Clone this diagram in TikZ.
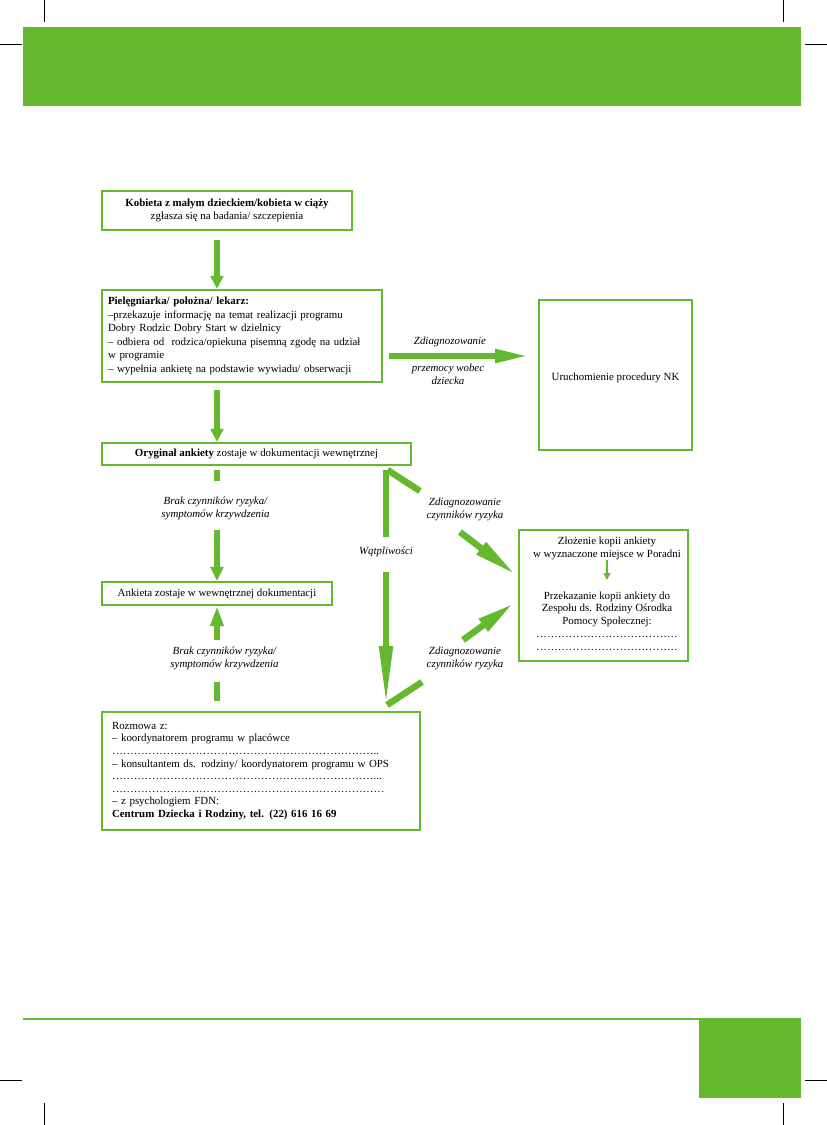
\documentclass[tikz,border=0pt]{standalone}
\usepackage{fontspec}
\setmainfont{Liberation Serif}
\usetikzlibrary{arrows.meta}
\definecolor{gr}{RGB}{101,185,46}
\newcommand\myfs{\fontsize{10.9pt}{12.8pt}\selectfont}
\newcommand\myell[1]{\foreach \k in {1,...,#1}{…}}
\begin{document}
\begin{tikzpicture}[x=1pt,y=-1pt,
  box/.style={draw=gr, line width=2.2pt, inner sep=0pt, font=\myfs},
  txt/.style={inner sep=0pt, font=\myfs, align=center},
  lab/.style={inner sep=0pt, font=\myfs\itshape, align=center},
  big/.style={draw=gr, line width=6.5pt},
  hd/.style={-{Triangle[length=#1,width=12.5pt]}},
  crop/.style={draw=black, line width=0.8pt}]
\useasboundingbox (0,0) rectangle (827,1125);
% crop marks
\draw[crop] (44,0) -- (44,22);
\draw[crop] (783,0) -- (783,22);
\draw[crop] (0,44) -- (22,44);
\draw[crop] (805,44) -- (827,44);
\draw[crop] (44,1103) -- (44,1125);
\draw[crop] (783,1103) -- (783,1125);
\draw[crop] (0,1080) -- (22,1080);
\draw[crop] (805,1080) -- (827,1080);
% header / footer
\fill[gr] (23,27) rectangle (801,106);
\draw[gr, line width=1.3pt] (23,1019) -- (700,1019);
\fill[gr] (699,1018.4) rectangle (801,1098);
% boxes
\node[box, minimum width=250pt, minimum height=39pt, align=center,
  font=\fontsize{10.9pt}{12.3pt}\selectfont] (b1) at (227,210.5)
  {\textbf{Kobieta z małym dzieckiem/kobieta w ciąży}\\zgłasza się na badania/ szczepienia};
\node[box, minimum width=280pt, minimum height=92pt, text width=268pt, align=left,
  font=\fontsize{10.9pt}{13.5pt}\selectfont] (b2) at (242,336)
  {\textbf{Pielęgniarka/ położna/ lekarz:}\\
   –przekazuje informację na temat realizacji programu\\
   Dobry Rodzic Dobry Start w dzielnicy\\
   – odbiera od\ \ rodzica/opiekuna pisemną zgodę na udział\\
   w programie\\
   – wypełnia ankietę na podstawie wywiadu/ obserwacji};
\node[box, minimum width=153pt, minimum height=150pt] (nk) at (615.5,375) {};
\node[txt] (nkt) at (615.5,378) {Uruchomienie procedury NK};
\node[box, minimum width=309pt, minimum height=22pt] (b3) at (256.5,454)
  {\textbf{Oryginał ankiety} zostaje w dokumentacji wewnętrznej};
\node[box, minimum width=230pt, minimum height=23pt] (b4) at (217,593.5)
  {Ankieta zostaje w wewnętrznej dokumentacji};
\node[box, minimum width=169pt, minimum height=131pt] (rb) at (603.5,595.5) {};
\node[txt, font=\fontsize{10.9pt}{12.6pt}\selectfont] (rt1) at (607,548.5)
  {Złożenie kopii ankiety\\w wyznaczone miejsce w Poradni};
\node[txt, font=\fontsize{10.9pt}{12.8pt}\selectfont] (rt2) at (607,621)
  {Przekazanie kopii ankiety do\\Zespołu ds. Rodziny Ośrodka\\Pomocy Społecznej:\\
   \myell{13}\\\myell{13}};
\node[box, minimum width=318pt, minimum height=118pt, text width=298pt, align=left,
  font=\fontsize{10.9pt}{12.6pt}\selectfont] (b5) at (261,771)
  {Rozmowa z:\\
   – koordynatorem programu w placówce\\
   \myell{24}..\\
   – konsultantem ds. rodziny/ koordynatorem programu w OPS\\
   \myell{24}...\\
   \myell{25}\\
   – z psychologiem FDN:\\
   \textbf{Centrum Dziecka i Rodziny, tel. (22) 616 16 69}};
% labels
\node[lab] (l1a) at (450,342) {Zdiagnozowanie};
\node[lab] (l1b) at (448,374.5) {przemocy wobec\\dziecka};
\node[lab] (l2) at (215.5,508.5) {Brak czynników ryzyka/\\symptomów krzywdzenia};
\node[lab] (l3) at (224.5,658) {Brak czynników ryzyka/\\symptomów krzywdzenia};
\node[lab] (l4) at (386,552) {Wątpliwości};
\node[lab] (l5) at (465,509) {Zdiagnozowanie\\czynników ryzyka};
\node[lab] (l6) at (465,658) {Zdiagnozowanie\\czynników ryzyka};
% connector end points
\coordinate (a1) at (217,240);
\coordinate (a2) at (389,356);
\coordinate (a2e) at (530,356);
\coordinate (a3) at (217,390);
\coordinate (a4) at (217,470);
\coordinate (a4m) at (217,481);
\coordinate (a4n) at (217,530);
\coordinate (a5) at (217,701);
\coordinate (a5m) at (217,682);
\coordinate (a5n) at (217,640);
\coordinate (w0) at (386,470);
\coordinate (w1) at (386,537);
\coordinate (w2) at (386,572);
\coordinate (w3) at (386,708);
\coordinate (d1) at (387.5,470);
\coordinate (d1m) at (420,491);
\coordinate (d1n) at (460,532);
\coordinate (d1e) at (516,575);
\coordinate (d2) at (387,705);
\coordinate (d2m) at (422,682);
\coordinate (d2n) at (463,640);
\coordinate (d2e) at (514,603);
% connectors
\draw[big, hd=13pt] (a1) -- (b2.north -| a1);
\draw[big, hd=35pt] (a2) -- (a2e);
\draw[big, hd=13pt] (a3) -- (b3.north -| a3);
\draw[big] (a4) -- (a4m);
\draw[big, hd=14pt] (a4n) -- (b4.north -| a4n);
\draw[big] (a5) -- (a5m);
\draw[big, hd=20pt] (a5n) -- (b4.south -| a5n);
\draw[big] (w0) -- (w1);
\draw[big, hd=62pt] (w2) -- (w3);
\draw[big, line cap=butt] (d1) -- (d1m);
\draw[big, -{Triangle[length=44pt,width=14pt]}] (d1n) -- (d1e);
\draw[big] (d2) -- (d2m);
\draw[big, -{Triangle[length=38pt,width=14pt]}] (d2n) -- (d2e);
\draw[draw=gr, line width=1.6pt, -{Triangle[length=7pt,width=7pt]}] (rt1.south -| 607,561) -- (607,580);
\end{tikzpicture}
\end{document}
